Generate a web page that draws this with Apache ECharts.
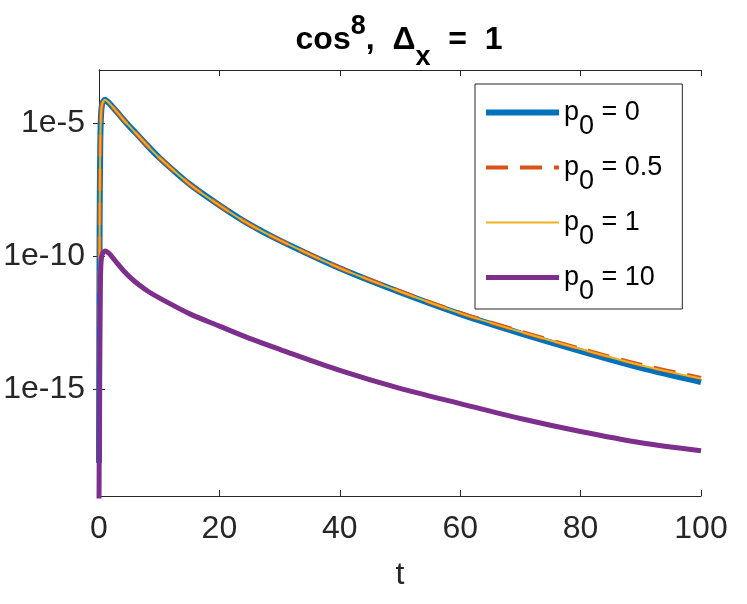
<!DOCTYPE html>
<html>
<head>
<meta charset="utf-8">
<script src="https://cdn.jsdelivr.net/npm/echarts@6/dist/echarts.min.js"></script>
<style>
html, body { margin: 0; padding: 0; background: #fff; }
#main { width: 747px; height: 604px; }
</style>
</head>
<body>
<div id="main"></div>
<script>
// time axis samples
var tVals = [0, 0.1, 0.2, 0.3, 0.5, 1, 1.5, 2, 3, 4, 5, 6, 8, 10, 15, 20, 25, 30, 40, 50, 60, 70, 80, 90, 100];
// series values
var p0_0 = [1.78e-18, 1e-9, 1e-6, 1.26e-5, 5.01e-5, 7.59e-5, 6.31e-5, 4.79e-5, 2.63e-5, 1.41e-5, 7.94e-6, 4.57e-6, 1.48e-6, 5.13e-7, 5.25e-8, 8.32e-9, 1.58e-9, 3.98e-10, 3.55e-11, 4.47e-12, 6.76e-13, 1.29e-13, 2.75e-14, 6.46e-15, 1.91e-15];
var p0_05 = [1.78e-18, 1e-9, 1e-6, 1.26e-5, 5.01e-5, 7.59e-5, 6.31e-5, 4.79e-5, 2.63e-5, 1.41e-5, 7.94e-6, 4.57e-6, 1.48e-6, 5.13e-7, 5.25e-8, 8.32e-9, 1.58e-9, 4.07e-10, 3.72e-11, 4.90e-12, 7.59e-13, 1.51e-13, 3.39e-14, 8.51e-15, 2.69e-15];
var p0_1 = [1.78e-18, 1e-9, 1e-6, 1.26e-5, 5.01e-5, 7.59e-5, 6.31e-5, 4.79e-5, 2.63e-5, 1.41e-5, 7.94e-6, 4.57e-6, 1.48e-6, 5.13e-7, 5.25e-8, 8.32e-9, 1.58e-9, 4.07e-10, 3.63e-11, 4.79e-12, 7.41e-13, 1.48e-13, 3.31e-14, 8.13e-15, 2.57e-15];
var p0_10 = [3.16e-20, 1e-14, 3.16e-12, 3.98e-11, 1.12e-10, 1.58e-10, 1.41e-10, 1.07e-10, 5.62e-11, 3.02e-11, 1.78e-11, 1.12e-11, 5.13e-12, 2.75e-12, 7.08e-13, 2.40e-13, 8.32e-14, 3.24e-14, 5.25e-15, 1.10e-15, 2.95e-16, 8.13e-17, 2.63e-17, 1e-17, 5.01e-18];
var p0Names = ['0', '0.5', '1', '10'];
var yTickVals = [1e-15, 1e-10, 1e-5];

var FONT = '"Liberation Sans", Arial, Helvetica, sans-serif';
var AXIS_COLOR = '#262626';

function pairs(vals) {
    return tVals.map(function (t, i) { return [t, vals[i]]; });
}

var chart = echarts.init(document.getElementById('main'));

var styles = [
    {color: '#0072BD', width: 6, type: 'solid'},
    {color: '#D95319', width: 4, type: [22, 12]},
    {color: '#EDB120', width: 2, type: 'solid'},
    {color: '#7E2F8E', width: 5, type: 'solid'}
];
var allData = [p0_0, p0_05, p0_1, p0_10];

var series = allData.map(function (vals, i) {
    return {
        name: 'p0 = ' + p0Names[i],
        type: 'line',
        symbol: 'none',
        smooth: 0.3,
        clip: true,
        color: styles[i].color,
        lineStyle: {color: styles[i].color, width: styles[i].width, type: styles[i].type},
        data: pairs(vals)
    };
});

var option = {
    animation: false,
    backgroundColor: '#fff',
    title: {
        left: 399,
        textAlign: 'center',
        top: 10,
        padding: 0,
        text: '{a|cos}{sup|8}{a|,  Δ}{sub|x}{a|  =  1}',
        textStyle: {
            rich: {
                a: {fontFamily: FONT, fontWeight: 'bold', fontSize: 32, lineHeight: 35, color: '#000', verticalAlign: 'top', padding: [14, 0, 0, 0]},
                sup: {fontFamily: FONT, fontWeight: 'bold', fontSize: 27, lineHeight: 35, color: '#000', verticalAlign: 'top', padding: [3, 0, 0, 0]},
                sub: {fontFamily: FONT, fontWeight: 'bold', fontSize: 27, lineHeight: 35, color: '#000', verticalAlign: 'top', padding: [34, 0, 0, 0]}
            }
        }
    },
    legend: {
        orient: 'vertical',
        left: 475,
        top: 84,
        padding: [15, 20, 4, 8],
        itemGap: 14,
        itemWidth: 73,
        itemHeight: 27,
        borderColor: AXIS_COLOR,
        borderWidth: 1,
        backgroundColor: '#fff',
        itemStyle: {opacity: 0},
        data: series.map(function (s, i) {
            return {
                name: s.name,
                lineStyle: {color: styles[i].color, width: styles[i].width, type: styles[i].type}
            };
        }),
        formatter: function (name) {
            return '{a|p}{b|0}{a| = ' + name.split('= ')[1] + '}';
        },
        textStyle: {
            rich: {
                a: {fontFamily: FONT, fontSize: 27, lineHeight: 27, color: '#000', verticalAlign: 'top', padding: [0, 0, 0, 0]},
                b: {fontFamily: FONT, fontSize: 27, lineHeight: 27, color: '#000', verticalAlign: 'top', padding: [14, 0, 0, 0]}
            }
        }
    },
    grid: {
        left: 99,
        right: 46,
        top: 70,
        bottom: 108,
        containLabel: false
    },
    xAxis: [{
        type: 'value',
        min: 0,
        max: 100,
        interval: 20,
        name: 't',
        nameLocation: 'middle',
        nameGap: 63,
        nameTextStyle: {fontFamily: FONT, fontSize: 32, color: AXIS_COLOR},
        axisLine: {lineStyle: {color: AXIS_COLOR, width: 1}},
        axisTick: {inside: true, length: 6, lineStyle: {color: AXIS_COLOR}},
        axisLabel: {fontFamily: FONT, fontSize: 32, color: AXIS_COLOR, margin: 17},
        splitLine: {show: false}
    }, {
        type: 'value',
        position: 'top',
        min: 0,
        max: 100,
        interval: 20,
        axisLine: {show: true, lineStyle: {color: AXIS_COLOR, width: 1}},
        axisTick: {show: true, inside: true, length: 6, lineStyle: {color: AXIS_COLOR}},
        axisLabel: {show: false},
        splitLine: {show: false}
    }],
    yAxis: [{
        type: 'log',
        logBase: 10,
        min: 1e-19,
        max: 1e-3,
        axisLine: {show: true, lineStyle: {color: AXIS_COLOR, width: 1}},
        axisTick: {show: true, inside: true, length: 6, customValues: yTickVals, lineStyle: {color: AXIS_COLOR}},
        axisLabel: {
            fontFamily: FONT, fontSize: 32, color: AXIS_COLOR, margin: 14, customValues: yTickVals,
            formatter: function (v) { return '1e' + Math.round(Math.log10(v)); }
        },
        splitLine: {show: false},
        minorTick: {show: false}
    }, {
        type: 'log',
        logBase: 10,
        position: 'right',
        min: 1e-19,
        max: 1e-3,
        axisLine: {show: true, lineStyle: {color: AXIS_COLOR, width: 1}},
        axisTick: {show: true, inside: true, length: 6, customValues: yTickVals, lineStyle: {color: AXIS_COLOR}},
        axisLabel: {show: false},
        splitLine: {show: false}
    }],
    series: series
};

chart.setOption(option);
</script>
</body>
</html>
